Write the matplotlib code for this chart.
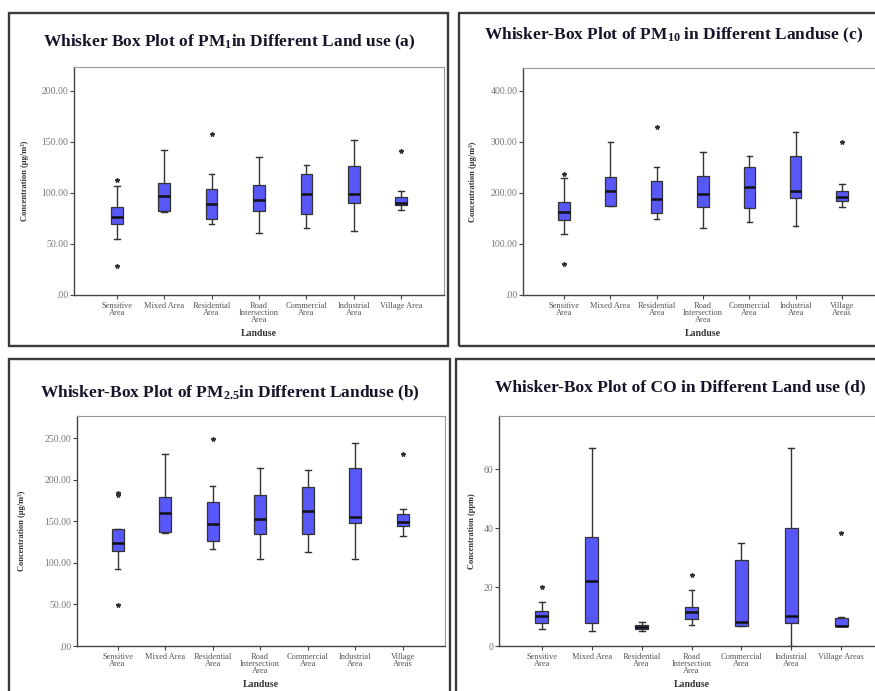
import numpy as np
import matplotlib
matplotlib.use("Agg")
import matplotlib.pyplot as plt
from matplotlib.patches import Rectangle

plt.rcParams['font.family'] = ['Liberation Serif', 'DejaVu Serif']
plt.rcParams['mathtext.fontset'] = 'custom'
plt.rcParams['mathtext.rm'] = 'Liberation Serif:bold'
plt.rcParams['mathtext.bf'] = 'Liberation Serif:bold'
plt.rcParams['mathtext.it'] = 'Liberation Serif:bold'

# categories
labels_a = ["Sensitive\nArea", "Mixed Area", "Residential\nArea", "Road\nIntersection\nArea",
            "Commercial\nArea", "Industrial\nArea", "Village Area"]
labels_c = ["Sensitive\nArea", "Mixed Area", "Residential\nArea", "Road\nIntersection\nArea",
            "Commercial\nArea", "Industrial\nArea", "Village\nAreas"]
labels_b = labels_c
labels_d = ["Sensitive\nArea", "Mixed Area", "Residential\nArea", "Road\nIntersection\nArea",
            "Commercial\nArea", "Industrial\nArea", "Village Areas"]

# PM1 (a)
pm1_med = [76, 97, 89, 92.5, 99, 99, 90]
pm1_q1 = [69.7, 81.8, 74, 82.4, 79.5, 90, 87.6]
pm1_q3 = [86, 109.4, 103.6, 107.5, 118.6, 125.7, 95.8]
pm1_lo = [55, 81, 69.7, 61, 65.8, 63, 82.7]
pm1_hi = [107, 142, 118.6, 135, 126.7, 151.8, 102]
pm1_out = [[112.7, 28], [], [157], [], [], [], [140.4]]

# PM10 (c)
pm10_med = [163, 204.6, 188, 198, 211, 204.6, 192]
pm10_q1 = [147, 175, 161.6, 172, 171, 190, 185]
pm10_q3 = [182, 232, 223, 233, 251, 273, 204.6]
pm10_lo = [119, 174, 149, 132, 142.7, 135.5, 173]
pm10_hi = [230, 299, 250, 279.5, 272, 318.6, 217]
pm10_out = [[238, 60.6], [], [329], [], [], [], [299]]

# PM2.5 (b)
pm25_med = [123.6, 159.6, 146.8, 152.8, 162.8, 154.8, 149.2]
pm25_q1 = [114.4, 136.8, 126.8, 134.8, 134.8, 148, 144]
pm25_q3 = [140.8, 179.6, 173, 182.4, 191.2, 214.8, 158.8]
pm25_lo = [93, 136.4, 116.8, 104.8, 113.2, 104.8, 132.8]
pm25_hi = [140.8, 230.8, 192.8, 214, 211.6, 244, 165.2]
pm25_out = [[182, 184, 48.8], [], [249.6], [], [], [], [231.6]]

# CO (d)
co_med = [10.2, 22.2, 6.5, 11.4, 8.0, 10.2, 6.9]
co_q1 = [7.9, 7.9, 5.7, 9.1, 6.9, 7.9, 6.9]
co_q3 = [12, 36.9, 7.0, 13.1, 29, 40, 9.4]
co_lo = [5.9, 5.1, 5.0, 7.0, 6.9, 0, 6.9]
co_hi = [14.9, 67.2, 8.1, 19.1, 35.1, 67.2, 10]
co_out = [[19.9], [], [], [24], [], [], [38.3]]

W, H = 875, 691
fig = plt.figure(figsize=(W / 100, H / 100), dpi=100)
fig.patch.set_facecolor('white')


def px_rect(l, t, r, b):
    return [l / W, (H - b) / H, (r - l) / W, (b - t) / H]


def frame(l, t, r, b):
    fig.patches.append(Rectangle((l / W, (H - b) / H), (r - l) / W, (b - t) / H,
                                 transform=fig.transFigure, fill=False,
                                 edgecolor='#3a3a3a', linewidth=1.7))


def panel(rect, med, q1, q3, lo, hi, out, labels, ylim, xlim, yticks, yfmt,
          ylabel, ylab_x, title, title_xy):
    ax = fig.add_axes(rect)
    stats = []
    for i in range(len(med)):
        stats.append(dict(med=med[i], q1=q1[i], q3=q3[i], whislo=lo[i],
                          whishi=hi[i], fliers=out[i]))
    ax.bxp(stats, positions=np.arange(1, len(med) + 1), widths=0.25,
           capwidths=0.12, patch_artist=True, showfliers=True,
           boxprops=dict(facecolor='#5858f8', edgecolor='#333333', linewidth=0.9),
           medianprops=dict(color='#111111', linewidth=1.8),
           whiskerprops=dict(color='#333333', linewidth=1.0),
           capprops=dict(color='#333333', linewidth=1.0),
           flierprops=dict(marker='*', markersize=3.2, markerfacecolor='#333333',
                           markeredgecolor='#333333', linestyle='none'))
    ax.set_xlim(*xlim)
    ax.set_ylim(*ylim)
    ax.set_yticks(yticks)
    ax.set_yticklabels([yfmt(v) for v in yticks])
    ax.set_xticks(np.arange(1, len(med) + 1))
    ax.set_xticklabels(labels, linespacing=0.85)
    ax.tick_params(axis='y', direction='out', length=3, width=0.8, colors='#444444',
                   labelsize=7, labelcolor='#777777', pad=1)
    ax.tick_params(axis='x', direction='out', length=3, width=0.8, colors='#444444',
                   labelsize=6, labelcolor='#555555', pad=2)
    for s in ['top', 'right']:
        ax.spines[s].set_color('#999999')
        ax.spines[s].set_linewidth(0.8)
    for s in ['left', 'bottom']:
        ax.spines[s].set_color('#444444')
        ax.spines[s].set_linewidth(1.0)
    ax.set_ylabel(ylabel, fontsize=6, fontweight='bold', color='#333333')
    ax.yaxis.set_label_coords(ylab_x, 0.5)
    ax.set_xlabel("Landuse", fontsize=7, fontweight='bold', color='#333333')
    h = rect[3] * H
    ax.xaxis.set_label_coords(0.5, -34 / h)
    fig.text(title_xy[0] / W, (H - title_xy[1]) / H, title, ha='center', va='center',
             fontsize=12.5, fontweight='bold', color='#15152a')
    return ax


def dec2(v):
    return ".00" if v == 0 else "%.2f" % v


def intfmt(v):
    return "%d" % v


# panel frames
frame(9, 13, 448, 346)
frame(459, 13, 890, 346)
frame(9, 359, 450, 700)
frame(456, 359, 890, 700)

panel(px_rect(74, 67, 444, 295), pm1_med, pm1_q1, pm1_q3, pm1_lo, pm1_hi, pm1_out,
      labels_a, (0, 223), (0.1, 7.9), [0, 50, 100, 150, 200], dec2,
      "Concentration (µg/m³)", -0.122,
      r"Whisker Box Plot of PM$_{\mathbf{1}}$in Different Land use (a)", (229, 42))

panel(px_rect(523, 68, 883, 295), pm10_med, pm10_q1, pm10_q3, pm10_lo, pm10_hi, pm10_out,
      labels_c, (0, 445), (0.114, 7.886), [0, 100, 200, 300, 400], dec2,
      "Concentration (µg/m³)", -0.128,
      r"Whisker-Box Plot of PM$_{\mathbf{10}}$ in Different Landuse (c)", (674, 35))

panel(px_rect(77, 416, 445, 646), pm25_med, pm25_q1, pm25_q3, pm25_lo, pm25_hi, pm25_out,
      labels_b, (0, 277), (0.146, 7.89), [0, 50, 100, 150, 200, 250], dec2,
      "Concentration (µg/m³)", -0.138,
      r"Whisker-Box Plot of PM$_{\mathbf{2.5}}$in Different Landuse (b)", (230, 393))

panel(px_rect(499, 416, 884, 646), co_med, co_q1, co_q3, co_lo, co_hi, co_out,
      labels_d, (0, 78), (0.145, 7.855), [0, 20, 40, 60], intfmt,
      "Concentration (ppm)", -0.06,
      r"Whisker-Box Plot of CO in Different Land use (d)", (680, 387))

fig.savefig("out.png", dpi=100)
